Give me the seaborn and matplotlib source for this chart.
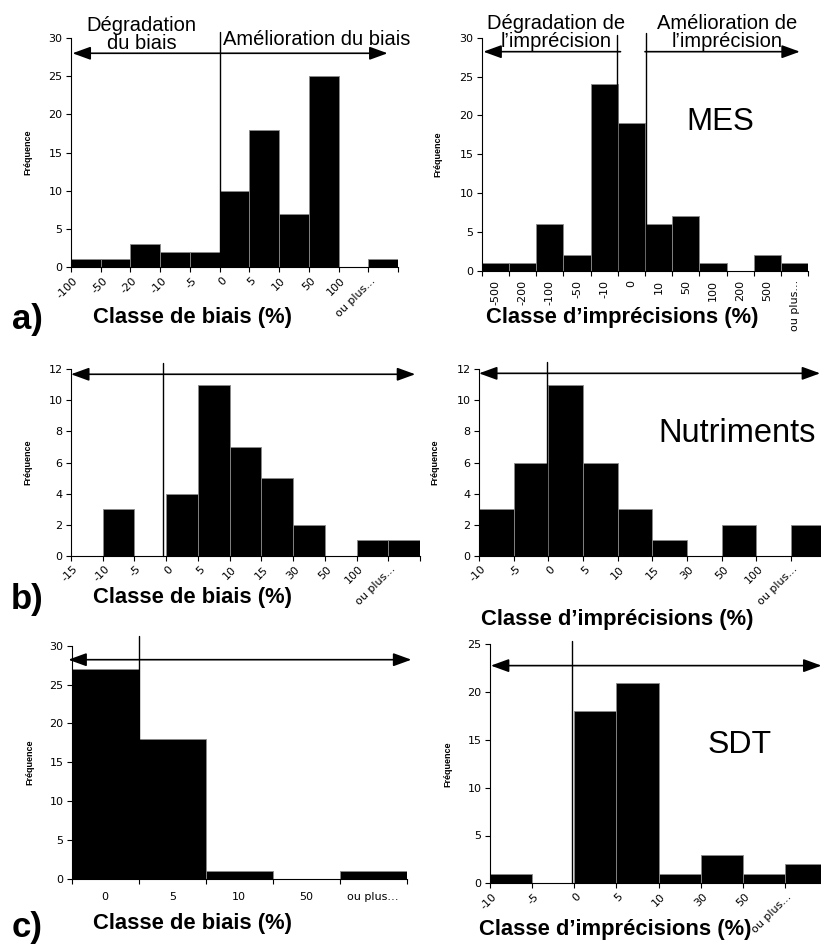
import numpy as np
import pandas as pd
import matplotlib
matplotlib.use('Agg')
import matplotlib.pyplot as plt
import matplotlib.transforms as mtransforms
import seaborn as sns

W, H = 821, 944

# a) MES
bias_a_labels = ['-100', '-50', '-20', '-10', '-5', '0', '5', '10', '50', '100', 'ou plus...']
bias_a_counts = [1, 1, 3, 2, 2, 10, 18, 7, 25, 0, 1]
impr_a_labels = ['-500', '-200', '-100', '-50', '-10', '0', '10', '50', '100', '200', '500', 'ou plus...']
impr_a_counts = [1, 1, 6, 2, 24, 19, 6, 7, 1, 0, 2, 1]

# b) Nutriments
bias_b_labels = ['-15', '-10', '-5', '0', '5', '10', '15', '30', '50', '100', 'ou plus...']
bias_b_counts = [0, 3, 0, 4, 11, 7, 5, 2, 0, 1, 1]
impr_b_labels = ['-10', '-5', '0', '5', '10', '15', '30', '50', '100', 'ou plus...']
impr_b_counts = [3, 6, 11, 6, 3, 1, 0, 2, 0, 2]

# c) SDT
bias_c_labels = ['0', '5', '10', '50', 'ou plus…']
bias_c_counts = [27, 18, 1, 0, 1]
impr_c_labels = ['-10', '-5', '0', '5', '10', '30', '50', 'ou plus...']
impr_c_counts = [1, 0, 18, 21, 1, 3, 1, 2]

sns.set_theme(style='ticks')
plt.rcParams['font.family'] = ['Liberation Sans', 'DejaVu Sans']
plt.rcParams.update({'text.color': 'black', 'xtick.color': 'black',
                     'ytick.color': 'black', 'axes.labelcolor': 'black'})

fig = plt.figure(figsize=(W / 100, H / 100), dpi=100)
tick_shift = mtransforms.ScaledTranslation(3.6 / 72, 0, fig.dpi_scale_trans)


def add_axes(x0, x1, ybase, ytop):
    # pixel box -> figure fraction
    return fig.add_axes([x0 / W, 1 - ybase / H, (x1 - x0) / W, (ybase - ytop) / H])


def draw_hist(ax, counts, labels, ymax, ystep, mode):
    n = len(counts)
    df = pd.DataFrame({'pos': np.arange(n) + 0.5, 'count': counts})
    sns.histplot(data=df, x='pos', weights='count', binwidth=1, binrange=(0, n), ax=ax,
                 color='black', alpha=1, edgecolor='#8a8a8a', linewidth=0.6)
    ax.set_xlim(0, n)
    ax.set_ylim(0, ymax)
    ax.set_yticks(np.arange(0, ymax + 1, ystep))
    ax.set_xlabel('')
    ax.set_ylabel('')
    ax.set_xticks(np.arange(n + 1))
    ax.tick_params(axis='both', which='major', direction='out', length=3.5, width=0.8,
                   color='black', labelsize=8, labelfontfamily='DejaVu Sans')
    ax.tick_params(axis='y', pad=2.5)
    if mode == 'edge45':
        ax.set_xticklabels(labels + [''] * (n + 1 - len(labels)), rotation=45,
                           ha='right', va='center', rotation_mode='anchor')
        ax.tick_params(axis='x', pad=5)
        for lab in ax.get_xticklabels():
            lab.set_transform(lab.get_transform() + tick_shift)
    else:
        ax.set_xticklabels([])
        ax.set_xticks(np.arange(n) + 0.5, minor=True)
        rot = 90 if mode == 'center90' else 0
        ax.set_xticklabels(labels, minor=True, rotation=rot, ha='center', va='top')
        ax.tick_params(axis='x', which='minor', length=0, pad=6.5 if rot else 9.5,
                       labelsize=8, labelfontfamily='DejaVu Sans')
    for side in ['left', 'bottom']:
        ax.spines[side].set_color('black')
        ax.spines[side].set_linewidth(0.8)
    sns.despine(ax=ax)
    ax.set_facecolor('none')


def vline(ax, x, top):
    ax.plot([x, x], [0, top], color='black', lw=1.0, clip_on=False, zorder=5)


def arrow(ax, x0, x1, y, style):
    ax.annotate('', xy=(x1, y), xytext=(x0, y), annotation_clip=False,
                arrowprops=dict(arrowstyle=style + ',head_length=1.1,head_width=0.4',
                                color='black', lw=1.2, shrinkA=0, shrinkB=0, mutation_scale=10))


def label_text(ax, x, y, s, size=14.5):
    ax.text(x, y, s, fontsize=size, ha='center', va='center', linespacing=0.95,
            multialignment='center', clip_on=False)


# ---- a) MES
ax1 = add_axes(71, 398, 267, 38)
draw_hist(ax1, bias_a_counts, bias_a_labels, 30, 5, 'edge45')
vline(ax1, 5, 30.8)
arrow(ax1, 0.05, 10.65, 28.0, '<|-|>')
label_text(ax1, 2.38, 30.5, 'Dégradation\ndu biais')
label_text(ax1, 8.25, 29.8, 'Amélioration du biais')

ax2 = add_axes(481.7, 808.3, 270.7, 37.7)
draw_hist(ax2, impr_a_counts, impr_a_labels, 30, 5, 'center90')
vline(ax2, 4.98, 30.35)
vline(ax2, 6.02, 30.56)
arrow(ax2, 5.1, 0.06, 28.2, '-|>')
arrow(ax2, 6.0, 11.69, 28.2, '-|>')
label_text(ax2, 2.75, 30.7, 'Dégradation de\nl’imprécision')
label_text(ax2, 9.0, 30.7, 'Amélioration de\nl’imprécision')
label_text(ax2, 8.75, 19.2, 'MES', size=22.5)

# ---- b) Nutriments
ax3 = add_axes(71, 420, 555.7, 369.3)
draw_hist(ax3, bias_b_counts, bias_b_labels, 12, 2, 'edge45')
vline(ax3, 2.91, 12.43)
arrow(ax3, 0.0, 10.85, 11.68, '<|-|>')

ax4 = add_axes(479, 825.7, 555.7, 369.3)
draw_hist(ax4, impr_b_counts, impr_b_labels, 12, 2, 'edge45')
vline(ax4, 1.95, 12.5)
arrow(ax4, 0.0, 9.84, 11.74, '<|-|>')
label_text(ax4, 7.43, 7.88, 'Nutriments', size=23.5)

# ---- c) SDT
ax5 = add_axes(71.7, 406.7, 879, 645.7)
draw_hist(ax5, bias_c_counts, bias_c_labels, 30, 5, 'center0')
vline(ax5, 1.0, 31.2)
arrow(ax5, -0.05, 5.07, 28.2, '<|-|>')

ax6 = add_axes(490, 827, 883.3, 644.3)
draw_hist(ax6, impr_c_counts, impr_c_labels, 25, 5, 'edge45')
vline(ax6, 1.95, 25.35)
arrow(ax6, 0.02, 7.87, 22.77, '<|-|>')
label_text(ax6, 5.93, 14.5, 'SDT', size=23)

# y labels (tiny, as in the original)
for (x, ax) in [(28, ax1), (438, ax2), (28, ax3), (435, ax4), (30, ax5), (448, ax6)]:
    pos = ax.get_position()
    fig.text(x / W, pos.y0 + pos.height / 2, 'Fréquence', rotation=90, fontsize=6.5,
             weight='bold', ha='center', va='center')

# x labels and panel letters
xlabels = [(192, 318, 'Classe de biais (%)'), (622, 318, 'Classe d’imprécisions (%)'),
           (192, 598, 'Classe de biais (%)'), (617, 619, 'Classe d’imprécisions (%)'),
           (192, 923, 'Classe de biais (%)'), (615, 930, 'Classe d’imprécisions (%)')]
for x, y, s in xlabels:
    fig.text(x / W, 1 - y / H, s, fontsize=15.8, weight='bold', ha='center', va='center')

for x, y, s in [(27, 320, 'a)'), (27, 600, 'b)'), (27, 928, 'c)')]:
    fig.text(x / W, 1 - y / H, s, fontsize=25, weight='bold', ha='center', va='center')

fig.savefig('out.png', dpi=100, facecolor='white')
